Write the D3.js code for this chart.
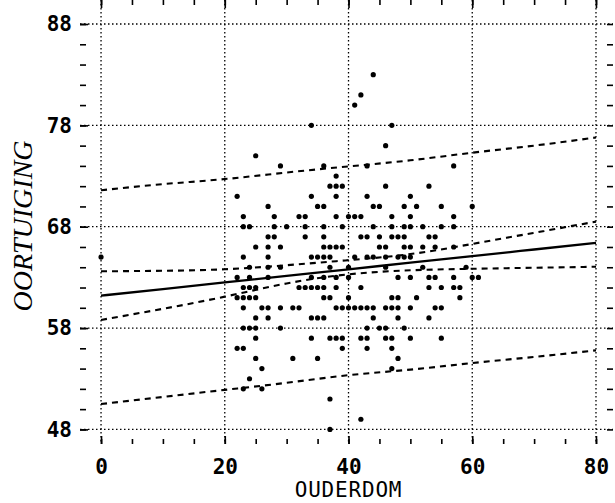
<!DOCTYPE html>
<head>
	<meta charset="utf-8" />
	<style>
		body {
			margin: 0;
			background: #fff;
		}
		svg {
			display: block;
		}
		.tick text {
			font-family: 'DejaVu Sans Mono', monospace;
			font-size: 21px;
			font-weight: bold;
			fill: #000;
		}
		.tick line {
			stroke: #000;
			stroke-width: 1.6;
		}
	</style>
</head>

<body>
	<svg id="chart" width="615" height="503"></svg>

	<script src="https://cdnjs.cloudflare.com/ajax/libs/d3/7.8.5/d3.min.js"></script>
	<script>
		// tick labels
		var ageTicks = [0, 20, 40, 60, 80];
		var scoreTicks = [48, 58, 68, 78, 88];

		// fitted line and bands at these ages
		var bandAges = [0, 10, 20, 30, 40, 50, 60, 70, 80];
		var fitLine = [61.2, 61.85, 62.5, 63.15, 63.8, 64.45, 65.1, 65.75, 66.4];
		var confUpper = [63.6, 63.65, 63.8, 64.2, 64.7, 65.3, 66.3, 67.4, 68.5];
		var confLower = [58.8, 59.9, 61.1, 62.4, 63.3, 63.7, 63.85, 63.95, 64.05];
		var predUpper = [71.6, 72.2, 72.7, 73.35, 73.95, 74.55, 75.3, 76.0, 76.8];
		var predLower = [50.5, 51.2, 51.9, 52.6, 53.35, 53.9, 54.55, 55.15, 55.8];

		// observations: [oortuiging, [ouderdom, ...]]
		var scoreRows = [
			[83, [44]],
			[81, [42]],
			[80, [41]],
			[78, [34, 47]],
			[76, [46]],
			[75, [25]],
			[74, [29, 36, 43, 57]],
			[73, [38]],
			[72, [37, 38, 39, 46, 53]],
			[71, [22, 34, 38, 43, 50]],
			[70, [27, 35, 36, 44, 45, 49, 51, 55, 60]],
			[69, [23, 28, 32, 33, 38, 40, 41, 42, 47, 50, 57]],
			[68, [23, 24, 28, 30, 33, 36, 39, 44, 47, 49, 50, 52, 55, 57]],
			[67, [27, 28, 33, 36, 42, 43, 45, 47, 48, 49, 53, 54]],
			[66, [25, 27, 29, 36, 37, 38, 39, 45, 46, 49, 50, 52, 54, 57]],
			[65, [0, 23, 27, 34, 35, 36, 37, 41, 43, 44, 46, 48, 49, 50]],
			[64, [24, 27, 29, 37, 40, 46, 52, 59]],
			[63, [22, 24, 27, 34, 36, 38, 40, 48, 50, 53, 54, 57, 60, 61]],
			[62, [23, 24, 25, 32, 33, 34, 35, 36, 38, 42, 53, 55, 57, 58]],
			[61, [22, 23, 24, 25, 36, 37, 40, 47, 48, 51, 58]],
			[60, [23, 26, 27, 29, 31, 32, 38, 39, 40, 41, 42, 43, 44, 46, 47, 48, 50, 54, 55]],
			[59, [25, 27, 34, 35, 36, 44, 48, 53]],
			[58, [23, 24, 25, 29, 43, 45, 46, 49]],
			[57, [25, 34, 37, 38, 39, 42, 43, 46, 47, 50, 55]],
			[56, [22, 23, 39, 43, 47]],
			[55, [25, 31, 35, 48]],
			[54, [26, 47]],
			[53, [24]],
			[52, [23, 26]],
			[51, [37]],
			[49, [42]],
			[48, [37]],
		];

		var points = [];
		scoreRows.forEach(r => r[1].forEach(a => points.push([a, r[0]])));

		var x = d3.scaleLinear().domain([-3.4, 82.75]).range([80, 613]);
		var y = d3.scaleLinear().domain([46.56, 89.58]).range([444, 8]);

		var left = x.range()[0],
			right = x.range()[1],
			top = y.range()[1],
			bottom = y.range()[0];

		var svg = d3.select('#chart');

		// dotted grid at the labelled ticks
		var grid = svg.append('g').attr('stroke', '#000').attr('stroke-width', 1.3).attr('stroke-dasharray', '1.5,2.5');
		grid.selectAll('.gx')
			.data(ageTicks)
			.join('line')
			.attr('x1', d => x(d))
			.attr('x2', d => x(d))
			.attr('y1', top)
			.attr('y2', bottom);
		grid.selectAll('.gy')
			.data(scoreTicks)
			.join('line')
			.attr('x1', left)
			.attr('x2', right)
			.attr('y1', d => y(d))
			.attr('y2', d => y(d));

		// axes, ticks pointing inwards on all four sides
		var minorAge = d3.range(0, 81, 5);
		var minorScore = d3.range(48, 89, 2);

		function addAxis(axis, tr) {
			var g = svg.append('g').attr('transform', tr).call(axis);
			g.select('.domain').remove();
			return g;
		}

		addAxis(d3.axisBottom(x).tickValues(minorAge).tickSize(-5).tickFormat(''), `translate(0,${bottom})`);
		addAxis(d3.axisBottom(x).tickValues(ageTicks).tickSize(-8).tickPadding(15).tickFormat(d3.format('d')), `translate(0,${bottom})`);
		addAxis(d3.axisTop(x).tickValues(minorAge).tickSize(-5).tickFormat(''), `translate(0,${top})`);
		addAxis(d3.axisTop(x).tickValues(ageTicks).tickSize(-8).tickFormat(''), `translate(0,${top})`);
		addAxis(d3.axisLeft(y).tickValues(minorScore).tickSize(-6).tickFormat(''), `translate(${left},0)`);
		addAxis(d3.axisLeft(y).tickValues(scoreTicks).tickSize(-8).tickPadding(8).tickFormat(d3.format('d')), `translate(${left},0)`);
		addAxis(d3.axisRight(y).tickValues(minorScore).tickSize(-6).tickFormat(''), `translate(${right},0)`);

		// frame
		svg.append('rect')
			.attr('x', left)
			.attr('y', top)
			.attr('width', right - left)
			.attr('height', bottom - top)
			.attr('fill', 'none')
			.attr('stroke', '#000')
			.attr('stroke-width', 2);

		// lines
		var line = d3.line()
			.x(d => x(d[0]))
			.y(d => y(d[1]))
			.curve(d3.curveNatural);

		function band(vals, dashed, w) {
			svg.append('path')
				.datum(bandAges.map((a, i) => [a, vals[i]]))
				.attr('d', line)
				.attr('fill', 'none')
				.attr('stroke', '#000')
				.attr('stroke-width', w)
				.attr('stroke-dasharray', dashed ? '6,5' : null);
		}

		band(predUpper, true, 2.1);
		band(predLower, true, 2.1);
		band(confUpper, true, 2.1);
		band(confLower, true, 2.1);
		band(fitLine, false, 2.3);

		// points
		svg.append('g')
			.selectAll('circle')
			.data(points)
			.join('circle')
			.attr('cx', d => x(d[0]))
			.attr('cy', d => y(d[1]))
			.attr('r', 2.6)
			.attr('fill', '#000');

		// axis titles
		svg.append('text')
			.attr('x', x(40))
			.attr('y', 497)
			.attr('text-anchor', 'middle')
			.attr('font-family', "'DejaVu Sans Mono', monospace")
			.attr('font-size', 21)
			.attr('letter-spacing', 0.8)
			.text('OUDERDOM');

		svg.append('text')
			.attr('transform', 'translate(32,226) rotate(-90)')
			.attr('text-anchor', 'middle')
			.attr('font-family', "'Liberation Serif', serif")
			.attr('font-style', 'italic')
			.attr('font-size', 28)
			.text('OORTUIGING');
	</script>
</body>
